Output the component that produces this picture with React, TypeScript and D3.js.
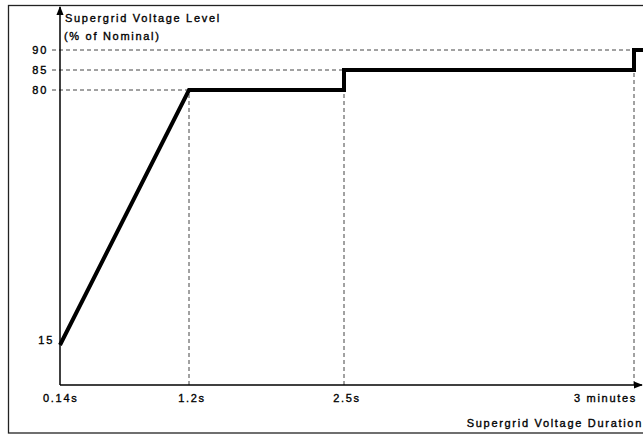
import React from "react";
import * as d3 from "d3";

// Data (schematic, piecewise axis)
const xTickValues = [0.14, 1.2, 2.5, 180];
const xTickLabels = ["0.14s", "1.2s", "2.5s", "3 minutes"];
const yTickValues = [15, 80, 85, 90];
const yTickLabels = ["15", "80", "85", "90"];
const profileT = [0.14, 1.2, 2.5, 2.5, 180, 180, 200];
const profileV = [15, 80, 80, 85, 85, 90, 90];

const W = 643;
const H = 437;

export default function App() {
  const x = d3.scaleLinear().domain([0.14, 1.2, 2.5, 180, 200]).range([60, 189, 344, 634, 660]);
  const y = d3.scaleLinear().domain([15, 80, 85, 90]).range([345, 90, 70, 50]);
  const x0 = 60;
  const y0 = 385;
  const pts: [number, number][] = profileT.map((t, i) => [x(t), y(profileV[i])]);
  const line = d3.line<[number, number]>().x((d) => d[0]).y((d) => d[1]);
  const font = "'Liberation Sans', Arial, sans-serif";
  const ls = 1.7;

  const hEnds: Record<number, number> = { 80: 1.2, 85: 2.5, 90: 180 };
  const vEnds: Record<number, number> = { 1.2: 80, 2.5: 80, 180: 85 };

  return (
    <svg
      width={W}
      height={H}
      style={{ position: "absolute", left: 0, top: 0, background: "#fff" }}
      fontFamily={font}
      fontSize={11}
      letterSpacing={ls}
    >
      <defs>
        <marker id="arr" viewBox="0 0 10 10" refX="9" refY="5" markerWidth="6" markerHeight="6" orient="auto">
          <path d="M0,1 L10,5 L0,9 z" fill="#000" />
        </marker>
      </defs>
      <rect x={8.5} y={5.5} width={660} height={427.5} fill="none" stroke="#222" strokeWidth={1.3} />

      {/* dashed guides */}
      {yTickValues
        .filter((v) => hEnds[v] !== undefined)
        .map((v) => (
          <line
            key={"h" + v}
            x1={52}
            x2={v === 90 ? W : x(hEnds[v])}
            y1={y(v)}
            y2={y(v)}
            stroke="#444"
            strokeWidth={1}
            strokeDasharray="4,3"
          />
        ))}
      {xTickValues
        .filter((t) => vEnds[t] !== undefined)
        .map((t) => (
          <line
            key={"v" + t}
            x1={x(t)}
            x2={x(t)}
            y1={y0}
            y2={y(vEnds[t])}
            stroke="#444"
            strokeWidth={1}
            strokeDasharray="4,3"
          />
        ))}

      {/* axes */}
      <line x1={x0} y1={y0} x2={x0} y2={7} stroke="#000" strokeWidth={1.5} markerEnd="url(#arr)" />
      <line x1={x0} y1={y0} x2={642} y2={y0} stroke="#000" strokeWidth={1.5} markerEnd="url(#arr)" />

      {/* profile */}
      <path d={line(pts) || ""} fill="none" stroke="#000" strokeWidth={4} strokeLinejoin="miter" />

      <g fill="#000" stroke="#000" strokeWidth={0.35}>
        {yTickValues.map((v, i) => (
          <text key={"yl" + v} x={v === 15 ? 54 : 48} y={y(v) + (v === 15 ? -5 : 0)} dy="0.35em" textAnchor="end">
            {yTickLabels[i]}
          </text>
        ))}
        {xTickValues.map((t, i) => (
          <text
            key={"xl" + t}
            x={i === 0 ? 43 : x(t) + 3}
            y={402}
            textAnchor={i === 0 ? "start" : i === 3 ? "end" : "middle"}
          >
            {xTickLabels[i]}
          </text>
        ))}
        <text x={65} y={22}>Supergrid Voltage Level</text>
        <text x={64} y={40}>(% of Nominal)</text>
        <text x={643} y={427} textAnchor="end">Supergrid Voltage Duration</text>
      </g>
    </svg>
  );
}
